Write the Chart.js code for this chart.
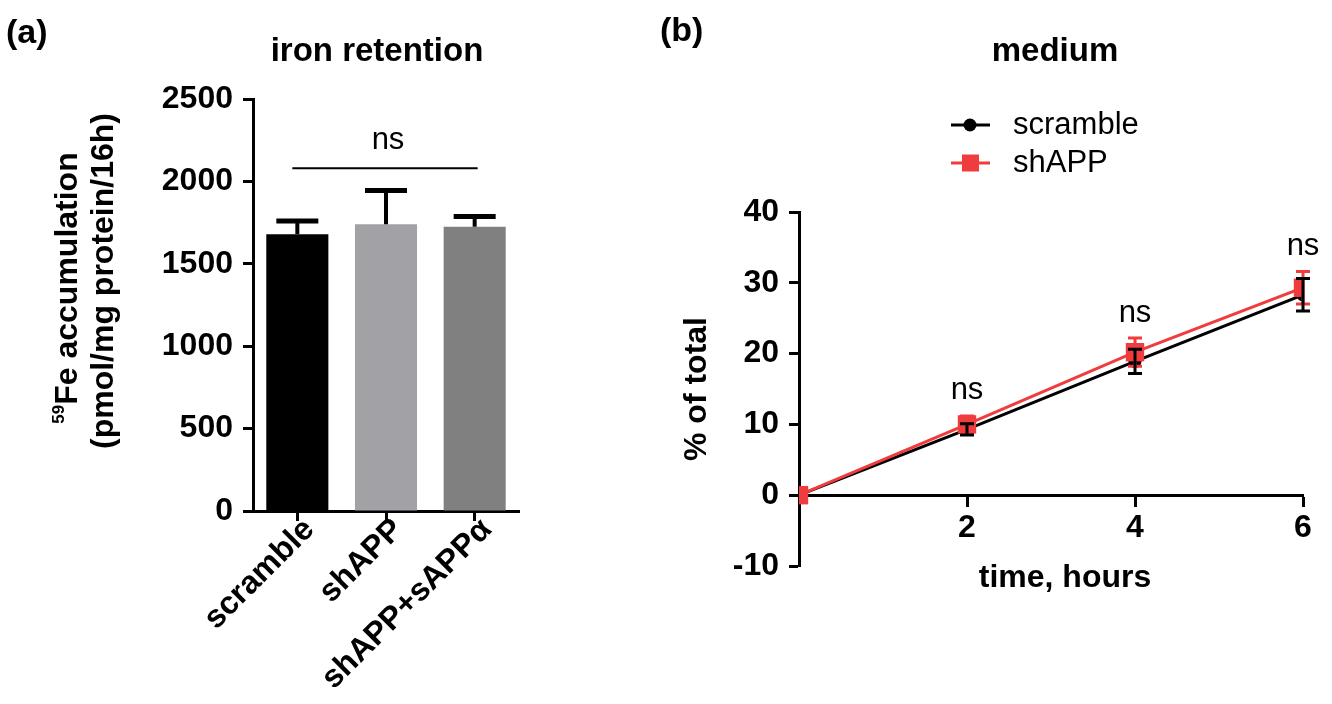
<!DOCTYPE html>
<html>
<head>
<meta charset="utf-8">
<script src="https://cdn.jsdelivr.net/npm/chart.js@4.4.0/dist/chart.umd.min.js"></script>
<style>
body{margin:0;background:#fff;width:1332px;height:704px;overflow:hidden;position:relative}
#wrapA{position:absolute;left:0;top:0;width:640px;height:704px}
#wrapB{position:absolute;left:640px;top:0;width:692px;height:704px}
</style>
</head>
<body>
<div id="wrapA"><canvas id="chartA" width="640" height="704"></canvas></div>
<div id="wrapB"><canvas id="chartB" width="692" height="704"></canvas></div>
<script>
// (a) iron retention
var groups = ['scramble', 'shAPP', 'shAPP+sAPPα'];
var retention = [1680, 1740, 1725];
var retentionErr = [80, 205, 62];
var retentionTicks = [0, 500, 1000, 1500, 2000, 2500];
var barColors = ['#000000', '#a2a2a6', '#808080'];

// (b) medium
var hours = [0, 2, 4, 6];
var scrambleMedium = [0, 9.3, 18.9, 28.3];
var scrambleErr = [0, 0.8, 1.7, 2.3];
var shAPPMedium = [0, 10.0, 20.2, 29.3];
var shAPPErr = [0, 1.2, 2.0, 2.3];
var mediumTicks = [-10, 0, 10, 20, 30, 40];
var hourTicks = [0, 2, 4, 6];
var nsLabels = ['', 'ns', 'ns', 'ns'];

var FONT = "'Liberation Sans', Arial, Helvetica, sans-serif";
Chart.defaults.font.family = FONT;
Chart.defaults.color = '#000';

function bold(size) { return 'bold ' + size + 'px ' + FONT; }
function plain(size) { return size + 'px ' + FONT; }

function axisGrid() {
  return { drawOnChartArea: false, tickLength: 10, tickWidth: 3, tickColor: '#000' };
}

var panelA = {
  id: 'panelA',
  afterDraw: function(chart) {
    var ctx = chart.ctx, xs = chart.scales.x, ys = chart.scales.y;
    ctx.save();
    // error bars (upper only)
    ctx.strokeStyle = '#000';
    for (var i = 0; i < retention.length; i++) {
      var x = xs.getPixelForValue(i);
      var y0 = ys.getPixelForValue(retention[i]);
      var y1 = ys.getPixelForValue(retention[i] + retentionErr[i]);
      ctx.lineWidth = 4;
      ctx.beginPath(); ctx.moveTo(x, y0); ctx.lineTo(x, y1); ctx.stroke();
      ctx.lineWidth = 5;
      ctx.beginPath(); ctx.moveTo(x - 21, y1); ctx.lineTo(x + 21, y1); ctx.stroke();
    }
    // ns bracket
    var by = ys.getPixelForValue(2080);
    var bx0 = xs.getPixelForValue(0) - 5, bx1 = xs.getPixelForValue(2) + 3;
    ctx.lineWidth = 2;
    ctx.beginPath(); ctx.moveTo(bx0, by); ctx.lineTo(bx1, by); ctx.stroke();
    ctx.fillStyle = '#000';
    ctx.textAlign = 'center'; ctx.textBaseline = 'middle';
    ctx.font = plain(31);
    ctx.fillText('ns', (bx0 + bx1) / 2 + 3, ys.getPixelForValue(2250));
    // title and panel letter
    ctx.font = bold(33);
    ctx.fillText('iron retention', 377, 52);
    ctx.textAlign = 'left';
    ctx.font = bold(34);
    ctx.fillText('(a)', 6, 34);
    // y axis label
    ctx.translate(68, 288);
    ctx.rotate(-Math.PI / 2);
    ctx.font = bold(17);
    var w59 = ctx.measureText('59').width;
    ctx.font = bold(32);
    var wMain = ctx.measureText('Fe accumulation').width;
    var start = -(w59 + wMain) / 2;
    ctx.font = bold(17);
    ctx.fillText('59', start, -9);
    ctx.font = bold(32);
    ctx.fillText('Fe accumulation', start + w59, 0);
    ctx.textAlign = 'center';
    ctx.fillText('(pmol/mg protein/16h)', 7, 36);
    ctx.restore();
  }
};

new Chart(document.getElementById('chartA'), {
  type: 'bar',
  data: {
    labels: groups,
    datasets: [{
      data: retention,
      backgroundColor: barColors,
      borderWidth: 0,
      barPercentage: 0.7,
      categoryPercentage: 1.0
    }]
  },
  options: {
    responsive: false,
    animation: false,
    layout: { padding: { left: 0, top: 99, right: 121, bottom: 0 } },
    plugins: { legend: { display: false }, tooltip: { enabled: false } },
    scales: {
      x: {
        offset: true,
        grid: Object.assign(axisGrid(), { offset: false }),
        border: { color: '#000', width: 3 },
        ticks: { color: '#000', font: { size: 32, weight: 'bold' }, maxRotation: 45, minRotation: 45,
          padding: -10, labelOffset: 12 },
        afterFit: function(s) { s.height = 193; }
      },
      y: {
        min: 0, max: 2500,
        afterBuildTicks: function(s) { s.ticks = retentionTicks.map(function(v) { return { value: v }; }); },
        ticks: { color: '#000', font: { size: 32, weight: 'bold' }, padding: 10,
          callback: function(v) { return String(v); } },
        grid: axisGrid(),
        border: { color: '#000', width: 3 },
        afterFit: function(s) { s.width = 253; }
      }
    }
  },
  plugins: [panelA]
});

function drawErr(ctx, xs, ys, vals, errs, color) {
  ctx.strokeStyle = color;
  ctx.lineWidth = 3;
  for (var i = 0; i < hours.length; i++) {
    if (!errs[i]) continue;
    var x = xs.getPixelForValue(hours[i]);
    var yt = ys.getPixelForValue(vals[i] + errs[i]);
    var yb = ys.getPixelForValue(vals[i] - errs[i]);
    ctx.beginPath();
    ctx.moveTo(x, yt); ctx.lineTo(x, yb);
    ctx.moveTo(x - 7, yt); ctx.lineTo(x + 7, yt);
    ctx.moveTo(x - 7, yb); ctx.lineTo(x + 7, yb);
    ctx.stroke();
  }
}

var panelB = {
  id: 'panelB',
  afterDatasetsDraw: function(chart) {
    var ctx = chart.ctx, xs = chart.scales.x, ys = chart.scales.y;
    ctx.save();
    drawErr(ctx, xs, ys, shAPPMedium, shAPPErr, '#f03c3c');
    drawErr(ctx, xs, ys, scrambleMedium, scrambleErr, '#000');
    ctx.restore();
  },
  afterDraw: function(chart) {
    var ctx = chart.ctx, xs = chart.scales.x, ys = chart.scales.y, a = chart.chartArea;
    ctx.save();
    ctx.fillStyle = '#000';
    ctx.textAlign = 'center'; ctx.textBaseline = 'middle';
    // ns labels
    ctx.font = plain(31);
    for (var i = 0; i < hours.length; i++) {
      if (!nsLabels[i]) continue;
      var top = Math.max(scrambleMedium[i] + scrambleErr[i], shAPPMedium[i] + shAPPErr[i]);
      ctx.fillText(nsLabels[i], xs.getPixelForValue(hours[i]), ys.getPixelForValue(top) - 25);
    }
    // title
    ctx.font = bold(33);
    ctx.fillText('medium', (a.left + a.right) / 2 + 4, 52);
    // x title
    ctx.font = bold(32);
    ctx.fillText('time, hours', (a.left + a.right) / 2 + 14, a.bottom + 12);
    // panel letter
    ctx.textAlign = 'left';
    ctx.font = bold(34);
    ctx.fillText('(b)', 20, 32);
    // legend
    var items = [
      { label: 'scramble', color: '#000', style: 'circle' },
      { label: 'shAPP', color: '#f03c3c', style: 'rect' }
    ];
    ctx.font = plain(31);
    for (var k = 0; k < items.length; k++) {
      var ly = a.top - 87 + k * 38;
      var lx = a.left + 152;
      ctx.strokeStyle = items[k].color;
      ctx.fillStyle = items[k].color;
      ctx.lineWidth = 3;
      ctx.beginPath(); ctx.moveTo(lx, ly); ctx.lineTo(lx + 39, ly); ctx.stroke();
      if (items[k].style === 'circle') {
        ctx.beginPath(); ctx.arc(lx + 19, ly, 6.5, 0, Math.PI * 2); ctx.fill();
      } else {
        ctx.fillRect(lx + 11, ly - 8.5, 17, 17);
      }
      ctx.fillStyle = '#000';
      ctx.fillText(items[k].label, lx + 62, ly);
    }
    // y title
    ctx.translate(57, (a.top + a.bottom) / 2);
    ctx.rotate(-Math.PI / 2);
    ctx.textAlign = 'center';
    ctx.font = bold(32);
    ctx.fillText('% of total', 0, 0);
    ctx.restore();
  }
};

function pts(vals) {
  return hours.map(function(h, i) { return { x: h, y: vals[i] }; });
}

new Chart(document.getElementById('chartB'), {
  type: 'line',
  data: {
    datasets: [
      { label: 'scramble', data: pts(scrambleMedium), borderColor: '#000', backgroundColor: '#000',
        borderWidth: 3, pointStyle: 'circle', pointRadius: 6.5, pointBorderWidth: 0, order: 2 },
      { label: 'shAPP', data: pts(shAPPMedium), borderColor: '#f03c3c', backgroundColor: '#f03c3c',
        borderWidth: 3, pointStyle: 'rect', pointRadius: 13, pointBorderWidth: 0, order: 1 }
    ]
  },
  options: {
    responsive: false,
    animation: false,
    layout: { padding: { left: 0, top: 212, right: 29, bottom: 138 } },
    plugins: { legend: { display: false }, tooltip: { enabled: false } },
    scales: {
      x: {
        type: 'linear',
        position: { y: 0 },
        min: 0, max: 6,
        afterBuildTicks: function(s) { s.ticks = hourTicks.map(function(v) { return { value: v }; }); },
        ticks: { color: '#000', font: { size: 32, weight: 'bold' }, padding: 4,
          callback: function(v) { return v === 0 ? '' : v; } },
        grid: axisGrid(),
        border: { color: '#000', width: 3 }
      },
      y: {
        min: -10, max: 40,
        afterBuildTicks: function(s) { s.ticks = mediumTicks.map(function(v) { return { value: v }; }); },
        ticks: { color: '#000', font: { size: 32, weight: 'bold' }, padding: 10 },
        grid: axisGrid(),
        border: { color: '#000', width: 3 },
        afterFit: function(s) { s.width = 159; }
      }
    }
  },
  plugins: [panelB]
});
</script>
</body>
</html>
